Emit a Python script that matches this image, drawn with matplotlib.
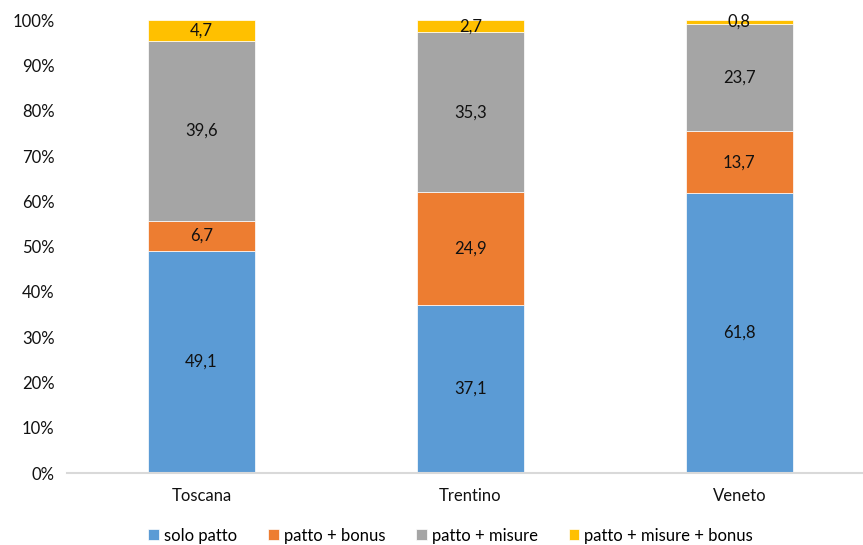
import matplotlib
matplotlib.use("Agg")
import matplotlib.pyplot as plt
import numpy as np

plt.rcParams['font.family'] = ['Lato', 'DejaVu Sans']

#data
regions = ['Toscana', 'Trentino', 'Veneto']
series = ['solo patto', 'patto + bonus', 'patto + misure', 'patto + misure + bonus']
solo_patto = [49.1, 37.1, 61.8]
patto_bonus = [6.7, 24.9, 13.7]
patto_misure = [39.6, 35.3, 23.7]
patto_misure_bonus = [4.7, 2.7, 0.8]
colors = ['#5B9BD5', '#ED7D31', '#A5A5A5', '#FFC000']

vals = np.array([solo_patto, patto_bonus, patto_misure, patto_misure_bonus])
#100% stacked, like excel
shares = vals / vals.sum(axis=0) * 100

fig = plt.figure(figsize=(8.63, 5.45), dpi=100)
ax = fig.add_axes([0.0776, 0.132, 0.935, 0.831])

x = np.arange(len(regions))
bottom = np.zeros(len(regions))
for i, name in enumerate(series):
    ax.bar(x, shares[i], 0.4, bottom=bottom, color=colors[i], label=name,
           edgecolor='white', linewidth=0.5)
    for j in range(len(regions)):
        ax.text(x[j], bottom[j] + shares[i][j] / 2, f'{vals[i][j]:.1f}'.replace('.', ','),
                ha='center', va='center', fontsize=12, color='#111111')
    bottom += shares[i]

ax.set_xlim(-0.5, 2.5)
ax.set_ylim(0, 100)
ax.set_yticks(range(0, 101, 10))
ax.set_yticklabels([f'{t}%' for t in range(0, 101, 10)])
ax.set_xticks(x)
ax.set_xticklabels(regions)
ax.tick_params(length=0, labelsize=12, colors='#111111')
ax.tick_params(axis='x', pad=11)
ax.tick_params(axis='y', pad=9)
for s in ['top', 'right', 'left']:
    ax.spines[s].set_visible(False)
ax.spines['bottom'].set_color('#D9D9D9')
ax.spines['bottom'].set_linewidth(1.5)

fig.legend(loc='lower center', bbox_to_anchor=(0.522, -0.025), ncol=4, frameon=False,
           fontsize=12, handlelength=0.65, handleheight=0.65, handletextpad=0.3,
           columnspacing=1.85)

fig.savefig('out.png', dpi=100)
